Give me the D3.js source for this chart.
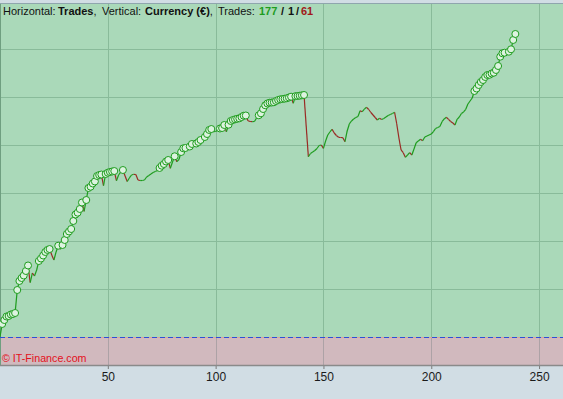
<!DOCTYPE html>
<html>
<head>
<meta charset="utf-8">
<script src="https://cdn.jsdelivr.net/npm/d3@7/dist/d3.min.js"></script>
<style>
  body { margin: 0; background: #d1dde4; }
  svg { display: block; font-family: "Liberation Sans", Arial, sans-serif; }
</style>
</head>
<body>
<script>
// equity after each closed trade (EUR), trade 0 = start
const equity = [
  0, 271, 354, 427, 437, 469, 479, 500, 979, 1167,
  1229, 1281, 1375, 1490, 1135, 1333, 1271, 1396, 1583, 1635,
  1698, 1771, 1813, 1833, 1708, 1604, 1771, 1902, 1827, 1917,
  2021, 2146, 2198, 2250, 2417, 2552, 2590, 2667, 2802, 2615,
  2854, 3104, 3131, 3198, 3240, 3354, 3375, 3385, 3152, 3396,
  3423, 3438, 3448, 3458, 3256, 3375, 3438, 3479, 3354, 3240,
  3313, 3375, 3390, 3385, 3271, 3260, 3260, 3271, 3333, 3365,
  3396, 3427, 3448, 3469, 3521, 3569, 3604, 3656, 3688, 3515,
  3646, 3765, 3652, 3698, 3854, 3931, 3938, 3931, 3969, 4021,
  4010, 4031, 4063, 4104, 4094, 4167, 4229, 4313, 4333, 4277,
  4281, 4313, 4344, 4354, 4417, 4277, 4423, 4500, 4521, 4535,
  4546, 4556, 4583, 4610, 4615, 4506, 4490, 4485, 4490, 4563,
  4619, 4660, 4750, 4827, 4865, 4881, 4885, 4890, 4917, 4938,
  4952, 4958, 4965, 4973, 4990, 5006, 4869, 5017, 5021, 5027,
  5035, 5042, 4396, 3756, 3823, 3854, 3885, 3927, 3990, 4000,
  3931, 4083, 4208, 4271, 4327, 4250, 4198, 4160, 4156, 4152,
  4069, 4292, 4438, 4500, 4542, 4573, 4594, 4715, 4694, 4750,
  4785, 4740, 4677, 4625, 4573, 4521, 4556, 4531, 4552, 4583,
  4615, 4635, 4656, 4681, 4438, 4146, 3896, 3840, 3744, 3792,
  3840, 3792, 3917, 4048, 4083, 4119, 4090, 4167, 4188, 4208,
  4229, 4277, 4344, 4365, 4385, 4485, 4542, 4577, 4535, 4490,
  4458, 4417, 4535, 4583, 4656, 4688, 4744, 4854, 4917, 4979,
  5125, 5177, 5250, 5313, 5354, 5417, 5458, 5463, 5490, 5506,
  5563, 5646, 5840, 5910, 5923, 5910, 5944, 5994, 6188, 6313
];
const xTicks = [50, 100, 150, 200, 250];
const yGrid = [1000, 2000, 3000, 4000, 5000, 6000];
const tradeCounts = ["177", "1", "61"]; // wins / even / losses

const W = 563, H = 399;
const plotTop = 4, plotBottom = 365;

const x = d3.scaleLinear().domain([0, 261.1]).range([0, W]);
const y = d3.scaleLinear().domain([-583.3, 6937.5]).range([plotBottom, plotTop]);

const svg = d3.select("body").append("svg")
  .attr("width", W)
  .attr("height", H);

// profit zone and loss zone
svg.append("rect")
  .attr("x", 0).attr("y", plotTop)
  .attr("width", W).attr("height", y(0) - plotTop)
  .attr("fill", "#aad9b9");
svg.append("rect")
  .attr("x", 0).attr("y", y(0))
  .attr("width", W).attr("height", plotBottom - y(0))
  .attr("fill", "#d1b9be");

// grid
svg.append("g").selectAll("line")
  .data(yGrid)
  .join("line")
  .attr("x1", 0).attr("x2", W)
  .attr("y1", d => Math.round(y(d)) + 0.5)
  .attr("y2", d => Math.round(y(d)) + 0.5)
  .attr("stroke", "#89bb9a");

svg.append("g").selectAll("line")
  .data(xTicks)
  .join("line")
  .attr("x1", d => Math.round(x(d)) + 0.5)
  .attr("x2", d => Math.round(x(d)) + 0.5)
  .attr("y1", plotTop).attr("y2", y(0))
  .attr("stroke", "#89bb9a");
svg.append("g").selectAll("line")
  .data(xTicks)
  .join("line")
  .attr("x1", d => Math.round(x(d)) + 0.5)
  .attr("x2", d => Math.round(x(d)) + 0.5)
  .attr("y1", y(0)).attr("y2", plotBottom)
  .attr("stroke", "#ada2a6");

// frame
svg.append("line")
  .attr("x1", 0).attr("x2", W)
  .attr("y1", plotTop - 0.5).attr("y2", plotTop - 0.5)
  .attr("stroke", "#8fa6ad");
svg.append("line")
  .attr("x1", 0.5).attr("x2", 0.5)
  .attr("y1", plotTop).attr("y2", plotBottom)
  .attr("stroke", "#6f9f80");

// zero line
svg.append("line")
  .attr("x1", 0).attr("x2", W)
  .attr("y1", Math.round(y(0)) + 0.5).attr("y2", Math.round(y(0)) + 0.5)
  .attr("stroke", "#dba497");
svg.append("line")
  .attr("x1", 0).attr("x2", W)
  .attr("y1", Math.round(y(0)) + 0.5).attr("y2", Math.round(y(0)) + 0.5)
  .attr("stroke", "#2e4fd6")
  .attr("stroke-width", 1.2)
  .attr("stroke-dasharray", "5,3");

// x axis
const xAxis = svg.append("g")
  .attr("transform", `translate(0,${plotBottom})`)
  .call(d3.axisBottom(x).tickValues(xTicks).tickSize(4).tickPadding(3));
xAxis.select(".domain").remove();
xAxis.selectAll(".tick line").attr("stroke", "#7a7a7a");
xAxis.selectAll("text")
  .attr("fill", "#1a1a1a")
  .style("font-size", "12px")
  .style("font-family", "'Liberation Sans', Arial, sans-serif");
svg.append("line")
  .attr("x1", 0).attr("x2", W)
  .attr("y1", plotBottom + 0.5).attr("y2", plotBottom + 0.5)
  .attr("stroke", "#8a8a8a").attr("stroke-width", 1.5);

// equity line, green for winning trades, red for losing ones
const segs = d3.pairs(equity.map((v, i) => ({ i, v })));
svg.append("g").selectAll("line")
  .data(segs)
  .join("line")
  .attr("x1", d => x(d[0].i)).attr("y1", d => y(d[0].v))
  .attr("x2", d => x(d[1].i)).attr("y2", d => y(d[1].v))
  .attr("stroke", d => d[1].v >= d[0].v ? "#1e9c1e" : "#9a2a24")
  .attr("stroke-width", 1.2);

// new equity highs
const highs = [];
let peak = equity[0];
equity.forEach((v, i) => {
  if (i > 0 && v > peak) { highs.push({ i, v }); peak = v; }
});
svg.append("g").selectAll("circle")
  .data(highs)
  .join("circle")
  .attr("cx", d => x(d.i))
  .attr("cy", d => y(d.v))
  .attr("r", 3.5)
  .attr("fill", "#ddf3e0")
  .attr("stroke", "#1e9c1e")
  .attr("stroke-width", 1);

// header
const head = svg.append("text")
  .attr("x", 3).attr("y", 15)
  .style("font-size", "11px")
  .attr("fill", "#111");
head.append("tspan").text("Horizontal:");
head.append("tspan").attr("x", 58).attr("font-weight", "bold").text("Trades");
head.append("tspan").text(",");
head.append("tspan").attr("x", 102).text("Vertical:");
head.append("tspan").attr("x", 145).attr("font-weight", "bold").text("Currency (€)");
head.append("tspan").text(",");
head.append("tspan").attr("x", 218).text("Trades:");
head.append("tspan").attr("x", 259).attr("font-weight", "bold").attr("fill", "#1e9c1e").text(tradeCounts[0]);
head.append("tspan").attr("x", 281).attr("font-weight", "bold").text("/");
head.append("tspan").attr("x", 288).attr("font-weight", "bold").text(tradeCounts[1]);
head.append("tspan").attr("x", 296).attr("font-weight", "bold").text("/");
head.append("tspan").attr("x", 301).attr("font-weight", "bold").attr("fill", "#a01818").text(tradeCounts[2]);

svg.append("text")
  .attr("x", 2).attr("y", 362)
  .style("font-size", "10.7px")
  .attr("fill", "#e3101c")
  .text("© IT-Finance.com");
</script>
</body>
</html>
